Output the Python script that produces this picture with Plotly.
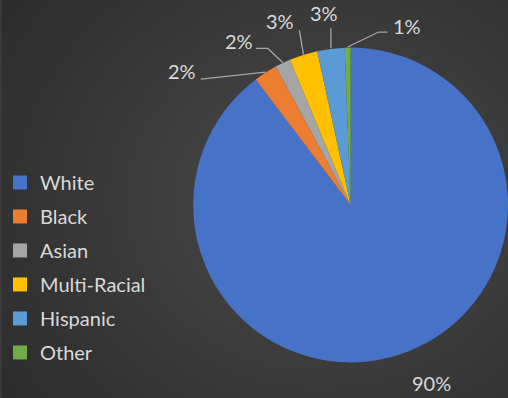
import base64, struct, zlib, math
import plotly.graph_objects as go

# ---- data ----
categories = ["White", "Black", "Asian", "Multi-Racial", "Hispanic", "Other"]
values = [89.7, 2.4, 1.6, 2.9, 2.8, 0.6]
colors = ["#4672C7", "#ED7D31", "#A5A5A5", "#FFC000", "#5B9BD5", "#70AD47"]

# ---- style / geometry ----
W, H = 508, 398
CX, CY, R = 350, 205, 158
TXT = "#D9D9D9"
LINE = "#A6A6A6"
FONT = "Lato"

# leader-line polylines (pixel offsets from slice edge point) and label offset from last point
leader = {
    "White": ([(0, 0)], (31, 28), False),
    "Black": ([(0, 0), (-65, 7)], (-19, -8), True),
    "Asian": ([(0, 0), (-15, -14), (-27, -14)], (-17, -7), True),
    "Multi-Racial": ([(0, 0), (-4, -24)], (-19, -9), True),
    "Hispanic": ([(0, 0), (0, -20)], (-7, -15), True),
    "Other": ([(0, 0), (31, -15), (40, -15)], (20, -6), True),
}

def px2paper(x, y):
    return x / W, 1 - y / H

# ---- background radial gradient as PNG data uri ----
def make_bg(w, h):
    rows = []
    gx, gy = 320, 200
    for j in range(h):
        row = bytearray([0])
        for i in range(w):
            d = math.hypot((i - gx) / 1.15, j - gy) / 360.0
            d = min(d, 1.0)
            v = int(round(74 - (74 - 42) * d))
            row += bytes((v, v, v))
        rows.append(bytes(row))
    raw = b"".join(rows)
    def chunk(t, data):
        c = struct.pack(">I", len(data)) + t + data
        return c + struct.pack(">I", zlib.crc32(t + data) & 0xffffffff)
    png = b"\x89PNG\r\n\x1a\n" + chunk(b"IHDR", struct.pack(">IIBBBBB", w, h, 8, 2, 0, 0, 0)) \
        + chunk(b"IDAT", zlib.compress(raw, 9)) + chunk(b"IEND", b"")
    return "data:image/png;base64," + base64.b64encode(png).decode()

fig = go.Figure()
fig.add_trace(go.Pie(
    labels=categories, values=values, sort=False, direction="clockwise", rotation=0,
    marker=dict(colors=colors, line=dict(width=0)),
    textinfo="none", hoverinfo="label+percent", showlegend=False,
    domain=dict(x=[(CX - R) / W, (CX + R) / W], y=[1 - (CY + R) / H, 1 - (CY - R) / H]),
))
# legend entries (one per category, same colours as the slices)
for cat, c in zip(categories, colors):
    fig.add_trace(go.Scatter(x=[None], y=[None], mode="markers", name=cat, legendgroup=cat,
                             marker=dict(symbol="square", size=14, color=c), hoverinfo="skip"))

total = sum(values)
cum = 0.0
shapes, annotations = [], []
for cat, v in zip(categories, values):
    mid = (cum + v / 2) / total * 2 * math.pi
    cum += v
    ex, ey = CX + R * math.sin(mid), CY - R * math.cos(mid)
    pts, (lx, ly), draw = leader[cat]
    poly = [(ex + dx, ey + dy) for dx, dy in pts]
    if draw:
        path = "M " + " L ".join("%f,%f" % px2paper(x, y) for x, y in poly)
        shapes.append(dict(type="path", path=path, xref="paper", yref="paper",
                           line=dict(color=LINE, width=1.3)))
    endx, endy = poly[-1]
    ax_, ay_ = px2paper(endx + lx, endy + ly)
    annotations.append(dict(x=ax_, y=ay_, xref="paper", yref="paper", showarrow=False,
                            text="%d%%" % round(v / total * 100),
                            font=dict(family=FONT, size=20, color=TXT),
                            xanchor="center", yanchor="middle"))

fig.update_layout(
    width=W, height=H, margin=dict(l=0, r=0, t=0, b=0),
    paper_bgcolor="#3a3a3a", plot_bgcolor="rgba(0,0,0,0)",
    images=[dict(source=make_bg(W, H), xref="paper", yref="paper", x=0, y=1,
                 sizex=1, sizey=1, sizing="stretch", layer="below", xanchor="left", yanchor="top")],
    shapes=shapes, annotations=annotations,
    showlegend=True,
    legend=dict(x=-0.004, y=0.328, xanchor="left", yanchor="middle", tracegroupgap=5,
                font=dict(family=FONT, size=20, color=TXT),
                bgcolor="rgba(0,0,0,0)", itemclick=False, itemdoubleclick=False),
)
fig.update_xaxes(visible=False)
fig.update_yaxes(visible=False)
fig.write_html("out.html")
